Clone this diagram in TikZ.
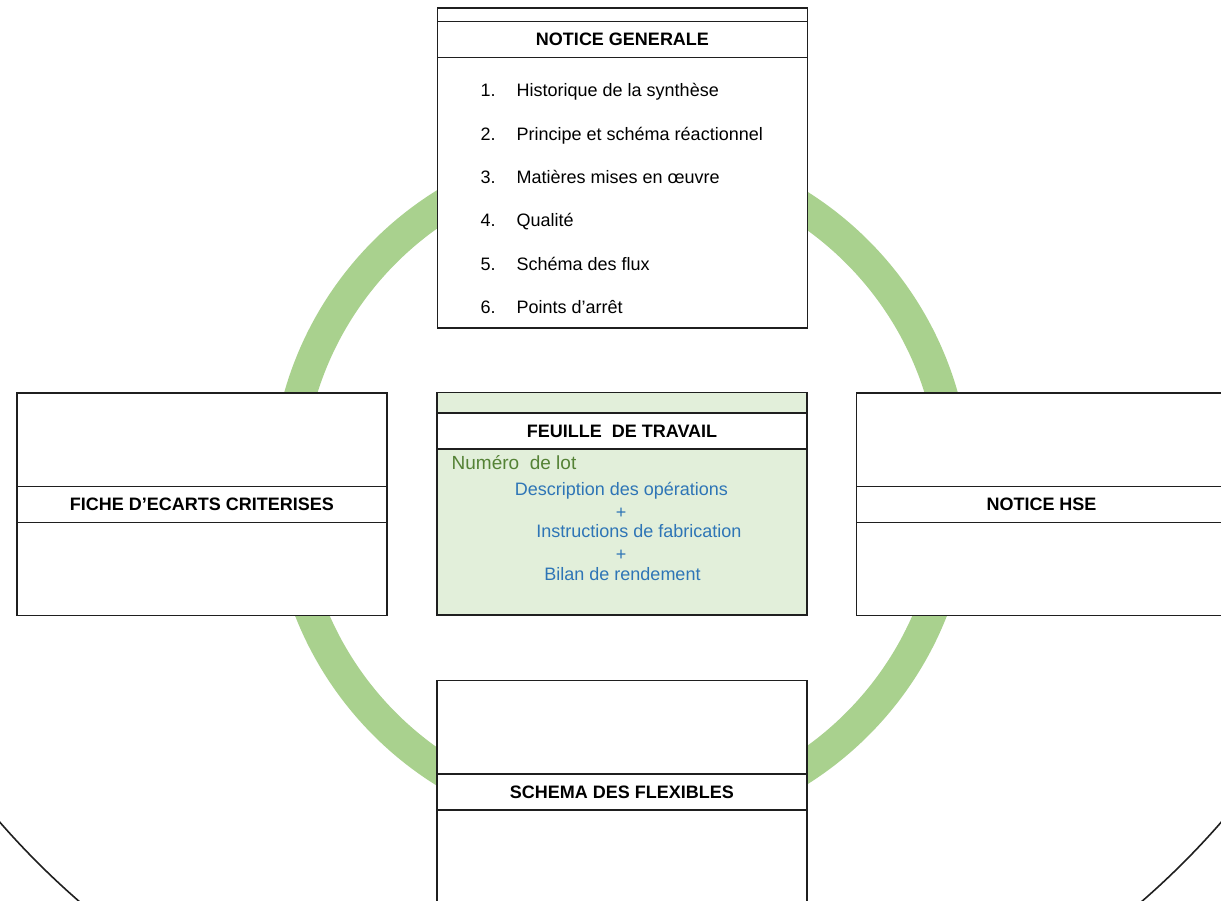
\documentclass[tikz,border=0pt]{standalone}
\usepackage{fontspec}
\setmainfont{Liberation Sans}
\definecolor{ringgreen}{HTML}{A9D18E}
\definecolor{panelgreen}{HTML}{E2EFDA}
\definecolor{lotgreen}{HTML}{548235}
\definecolor{opblue}{HTML}{2E75B6}
\definecolor{edge}{HTML}{1F1F1F}
\begin{document}
\begin{tikzpicture}[x=1pt,y=-1pt,
  panel/.style={draw=edge, line width=1.6pt, fill=white, minimum width=370pt,
    inner sep=0pt, outer sep=0pt},
  band/.style={draw=edge, line width=1.6pt, fill=white, minimum width=370pt,
    minimum height=36pt, inner sep=0pt, text height=13pt, text depth=0pt,
    font=\fontsize{18}{21}\selectfont\bfseries},
  item/.style={anchor=base west, inner sep=0pt, font=\fontsize{18}{21}\selectfont},
  op/.style={anchor=base, inner sep=0pt, text=opblue, font=\fontsize{18}{21}\selectfont}]
\useasboundingbox (0,0) rectangle (1221,901);
\clip (0,0) rectangle (1221,901);

% green cycle ring behind the panels
\draw[ringgreen, line width=32pt] (621,488) circle[radius=334];
% large outer outline, seen at the lower corners
\draw[edge, line width=1.6pt] (610.5,290) circle[radius=810];

% top panel: general notice
\node[panel, minimum height=320pt] (general) at (622.5,168) {};
\node[band] (generalT) at (622.5,39.5) {NOTICE GENERALE};
\node[item] (n1) at (480.5,97)    {1.};
\node[item] (t1) at (516.5,97)    {Historique de la synthèse};
\node[item] (n2) at (480.5,140.3) {2.};
\node[item] (t2) at (516.5,140.3) {Principe et schéma réactionnel};
\node[item] (n3) at (480.5,183.6) {3.};
\node[item] (t3) at (516.5,183.6) {Matières mises en œuvre};
\node[item] (n4) at (480.5,226.9) {4.};
\node[item] (t4) at (516.5,226.9) {Qualité};
\node[item] (n5) at (480.5,270.2) {5.};
\node[item] (t5) at (516.5,270.2) {Schéma des flux};
\node[item] (n6) at (480.5,313.5) {6.};
\node[item] (t6) at (516.5,313.5) {Points d’arrêt};

% centre panel: work sheet
\node[panel, fill=panelgreen, minimum height=222.7pt] (sheet) at (622,503.7) {};
\node[band] (sheetT) at (622,431.2) {FEUILLE\ \ DE TRAVAIL};
\node[anchor=base west, inner sep=0pt, text=lotgreen,
  font=\fontsize{19}{22}\selectfont] (lot) at (451.5,469) {Numéro\ \ de lot};
\node[op] (ops)   at (621.4,495)   {Description des opérations};
\node[op] (plus1) at (621,518)     {+};
\node[op] (instr) at (638.9,537.7) {Instructions de fabrication};
\node[op] (plus2) at (621,560)     {+};
\node[op] (yield) at (622.5,580)   {Bilan de rendement};

% left panel
\node[panel, minimum height=222.6pt] (gaps) at (202,504) {};
\node[band] (gapsT) at (202,504.3) {FICHE D’ECARTS CRITERISES};

% right panel
\node[panel, minimum height=222.6pt] (hse) at (1041.5,504) {};
\node[band] (hseT) at (1041.5,504.3) {NOTICE HSE};

% bottom panel
\node[panel, minimum height=223pt] (hoses) at (622,792) {};
\node[band] (hosesT) at (622,792) {SCHEMA DES FLEXIBLES};
\end{tikzpicture}
\end{document}
